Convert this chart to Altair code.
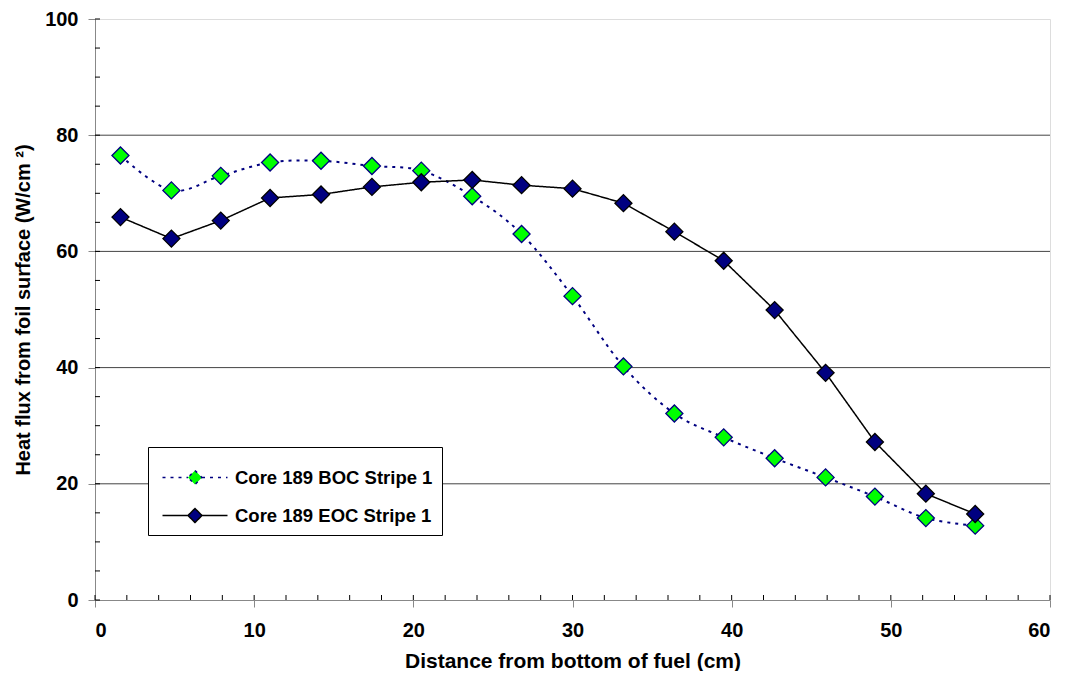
import altair as alt
import pandas as pd

x_pos = [1.6, 4.8, 7.9, 11.0, 14.2, 17.4, 20.5, 23.7, 26.8, 30.0, 33.2, 36.4, 39.5, 42.7, 45.9, 49.0, 52.2, 55.3]
boc = [76.5, 70.5, 73.0, 75.3, 75.6, 74.7, 73.9, 69.5, 63.0, 52.3, 40.2, 32.1, 28.0, 24.4, 21.1, 17.8, 14.1, 12.8]
eoc = [65.9, 62.2, 65.3, 69.2, 69.8, 71.1, 71.9, 72.3, 71.4, 70.8, 68.3, 63.4, 58.4, 49.9, 39.1, 27.2, 18.3, 14.8]
series_names = ["Core 189 BOC Stripe 1", "Core 189 EOC Stripe 1"]
grid_values = [20, 40, 60, 80]
x_major = [0, 10, 20, 30, 40, 50, 60]
y_major = [0, 20, 40, 60, 80, 100]
x_minor = list(range(0, 61, 2))
y_minor = list(range(0, 101, 5))

df = pd.DataFrame(
    {"x": x_pos * 2,
     "y": boc + eoc,
     "series": [series_names[0]] * len(x_pos) + [series_names[1]] * len(x_pos)}
)
grid_df = pd.DataFrame({"y": grid_values})
xminor_df = pd.DataFrame({"x": x_minor})
yminor_df = pd.DataFrame({"y": y_minor})

FONT = "Liberation Sans"
W, H = 955, 581

x_scale = alt.Scale(domain=[0, 60], nice=False)
y_scale = alt.Scale(domain=[0, 100], nice=False)

x_enc = alt.X("x:Q", scale=x_scale,
              axis=alt.Axis(values=x_major, title="Distance from bottom of fuel (cm)",
                            grid=False, tickSize=7, labelPadding=13, titlePadding=10,
                            labelFont=FONT, titleFont=FONT,
                            labelFontWeight="bold", titleFontWeight="bold",
                            labelFontSize=20, titleFontSize=21))
y_enc = alt.Y("y:Q", scale=y_scale,
              axis=alt.Axis(values=y_major, title="Heat flux from foil surface (W/cm \u00b2)",
                            grid=False, tickSize=7, labelPadding=10, titlePadding=11,
                            labelFont=FONT, titleFont=FONT,
                            labelFontWeight="bold", titleFontWeight="bold",
                            labelFontSize=20, titleFontSize=20))

stroke_scale = alt.Scale(domain=series_names, range=["#000080", "#000000"])
fill_scale = alt.Scale(domain=series_names, range=["#00FF00", "#000080"])
dash_scale = alt.Scale(domain=series_names, range=[[3, 5], [1, 0]])

legend = alt.Legend(
    title=None, orient="none", legendX=53, legendY=428,
    symbolType="M-1.625,0L-0.35,0M0.35,0L1.625,0M0,-0.35L0.35,0L0,0.35L-0.35,0Z",
    symbolSize=1600, symbolStrokeWidth=1.5, symbolOffset=16.5, labelOffset=19,
    labelFont=FONT, labelFontSize=18.5, labelFontWeight="bold", labelColor="black",
    fillColor="white", strokeColor="black", padding=9.5, rowPadding=7,
    labelLimit=400,
)

grid = alt.Chart(grid_df).mark_rule(color="#444444", strokeWidth=1).encode(y=y_enc)

yticks_in = alt.Chart(yminor_df).mark_rule(color="black", strokeWidth=1).encode(
    y=y_enc, x=alt.value(0), x2=alt.value(5)
)
xticks_in = alt.Chart(xminor_df).mark_rule(color="black", strokeWidth=1).encode(
    x=x_enc, y=alt.value(H), y2=alt.value(H - 5)
)

lines_boc = alt.Chart(df).transform_filter(
    alt.datum.series == series_names[0]
).mark_line(interpolate="cardinal", tension=0, strokeWidth=2).encode(
    x=x_enc, y=y_enc,
    stroke=alt.Stroke("series:N", scale=stroke_scale, legend=legend),
    strokeDash=alt.StrokeDash("series:N", scale=dash_scale, legend=legend),
)
lines_eoc = alt.Chart(df).transform_filter(
    alt.datum.series == series_names[1]
).mark_line(strokeWidth=1.5).encode(
    x=x_enc, y=y_enc,
    stroke=alt.Stroke("series:N", scale=stroke_scale, legend=legend),
    strokeDash=alt.StrokeDash("series:N", scale=dash_scale, legend=legend),
)
points = alt.Chart(df).mark_point(shape="diamond", filled=False, size=290, strokeWidth=1.3,
                                  opacity=1, fillOpacity=1).encode(
    x=x_enc, y=y_enc,
    stroke=alt.Stroke("series:N", scale=stroke_scale, legend=legend),
    fill=alt.Fill("series:N", scale=fill_scale, legend=legend),
)

chart = alt.layer(grid, yticks_in, xticks_in, lines_boc, lines_eoc, points).properties(
    width=W, height=H,
    autosize=alt.AutoSizeParams(type="none"),
    padding={"left": 87, "top": 11, "right": 10, "bottom": 71},
).configure_view(
    stroke="black", strokeWidth=1
).configure_axis(
    labelColor="black", titleColor="black", domainColor="black", tickColor="black",
    domainWidth=1, tickWidth=1,
).configure(background="white")

chart.save("out.html", embed_options={"renderer": "svg", "actions": False})
